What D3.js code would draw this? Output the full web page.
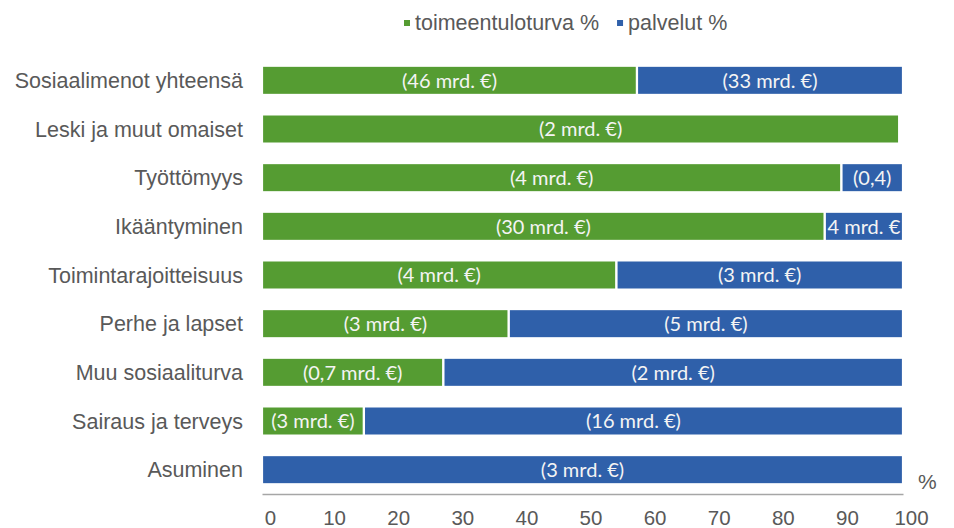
<!DOCTYPE html>
<html>
<head>
<meta charset="utf-8">
<script src="https://cdn.jsdelivr.net/npm/d3@7"></script>
<style>
    body { margin: 0; background: #fff; }
    svg { display: block; }
    .cat text { font-family: "Liberation Sans", Arial, sans-serif; font-size: 21.5px; fill: #595959; }
    .x.axis text { font-family: "Liberation Sans", Arial, sans-serif; font-size: 20.5px; fill: #595959; }
    .legend text { font-family: "Liberation Sans", Arial, sans-serif; font-size: 21.5px; fill: #595959; }
    .barlabel { font-family: Lato, "Open Sans", sans-serif; font-size: 20px; fill: #f4f4f4; }
</style>
</head>
<body>
<div id="chart"></div>
<script>
// Categories, top to bottom
var categories = ["Sosiaalimenot yhteensä", "Leski ja muut omaiset", "Työttömyys", "Ikääntyminen",
    "Toimintarajoitteisuus", "Perhe ja lapset", "Muu sosiaaliturva", "Sairaus ja terveys", "Asuminen"];

// Shares in percent
var toimeentuloturva = [58.5, 99.4, 90.4, 87.8, 55.3, 38.5, 28.3, 15.9, 0];
var palvelut = [41.5, 0, 9.6, 12.2, 44.7, 61.5, 71.7, 84.1, 100];

// Segment labels
var toimeentuloLabels = ["(46 mrd. €)", "(2 mrd. €)", "(4 mrd. €)", "(30 mrd. €)", "(4 mrd. €)",
    "(3 mrd. €)", "(0,7 mrd. €)", "(3 mrd. €)", ""];
var palveluLabels = ["(33 mrd. €)", "", "(0,4)", "4 mrd. €", "(3 mrd. €)",
    "(5 mrd. €)", "(2 mrd. €)", "(16 mrd. €)", "(3 mrd. €)"];

var seriesNames = ["toimeentuloturva %", "palvelut %"];
var xTicks = [0, 10, 20, 30, 40, 50, 60, 70, 80, 90, 100];

var colors = ["#559C32", "#2F60AA"];

const canvas = { width: 954, height: 528 };
const margin = { left: 262, right: 51, top: 56, bottom: 34 };
const chart = {
    width: canvas.width - margin.left - margin.right,
    height: canvas.height - margin.top - margin.bottom
};

var svg = d3.select("#chart")
    .append("svg")
    .attr("width", canvas.width)
    .attr("height", canvas.height);

var g = svg.append("g")
    .attr("transform", "translate(" + margin.left + "," + margin.top + ")");

var x = d3.scaleLinear().domain([0, 100]).range([0, chart.width]);
var y = d3.scaleBand().domain(categories).range([0, chart.height]).paddingInner(0.4).paddingOuter(0.2);

// build stacked rows
var rows = categories.map(function(c, i) {
    return [
        { cat: c, s: 0, x0: 0, x1: toimeentuloturva[i], label: toimeentuloLabels[i] },
        { cat: c, s: 1, x0: toimeentuloturva[i], x1: toimeentuloturva[i] + palvelut[i], label: palveluLabels[i] }
    ];
});
var segs = d3.merge(rows).filter(function(d) { return d.x1 - d.x0 > 0; });

g.append("g")
    .selectAll("rect")
    .data(segs)
    .enter()
    .append("rect")
    .attr("x", function(d) { return x(d.x0); })
    .attr("y", function(d) { return y(d.cat); })
    .attr("width", function(d) { return x(d.x1) - x(d.x0); })
    .attr("height", y.bandwidth())
    .style("fill", function(d) { return colors[d.s]; })
    .style("stroke", "#fff")
    .style("stroke-width", 2.2);

g.append("g")
    .selectAll("text")
    .data(segs.filter(function(d) { return d.label; }))
    .enter()
    .append("text")
    .attr("class", "barlabel")
    .attr("x", function(d) { return (x(d.x0) + x(d.x1)) / 2; })
    .attr("y", function(d) { return y(d.cat) + y.bandwidth() / 2; })
    .attr("dy", "0.36em")
    .style("text-anchor", "middle")
    .text(function(d) { return d.label; });

// category labels
g.append("g")
    .attr("class", "cat")
    .selectAll("text")
    .data(categories)
    .enter()
    .append("text")
    .attr("x", -19)
    .attr("y", function(d) { return y(d) + y.bandwidth() / 2; })
    .attr("dy", "0.35em")
    .style("text-anchor", "end")
    .text(function(d) { return d; });

// x axis
var xAxis = g.append("g")
    .attr("class", "x axis")
    .attr("transform", "translate(0," + chart.height + ")")
    .call(d3.axisBottom(x).tickValues(xTicks).tickSize(0).tickPadding(16));
xAxis.select(".domain").attr("stroke", "#a6a6a6").attr("stroke-width", 1.4);
xAxis.selectAll("text").attr("dx", 8).attr("fill", "#595959");

g.append("text")
    .attr("x", chart.width + 15)
    .attr("y", chart.height - 5)
    .style("font-family", "'Liberation Sans', Arial, sans-serif")
    .style("font-size", "21px")
    .style("fill", "#595959")
    .text("%");

// legend
var legend = svg.append("g").attr("class", "legend").attr("transform", "translate(404,22)");
var lx = 0;
seriesNames.forEach(function(name, i) {
    var item = legend.append("g").attr("transform", "translate(" + lx + ",0)");
    item.append("rect")
        .attr("x", 0)
        .attr("y", -2)
        .attr("width", 6)
        .attr("height", 6)
        .style("fill", colors[i]);
    var t = item.append("text")
        .attr("x", 11)
        .attr("dy", "0.35em")
        .text(name);
    lx += 11 + t.node().getComputedTextLength() + 18;
});
</script>
</body>
</html>
